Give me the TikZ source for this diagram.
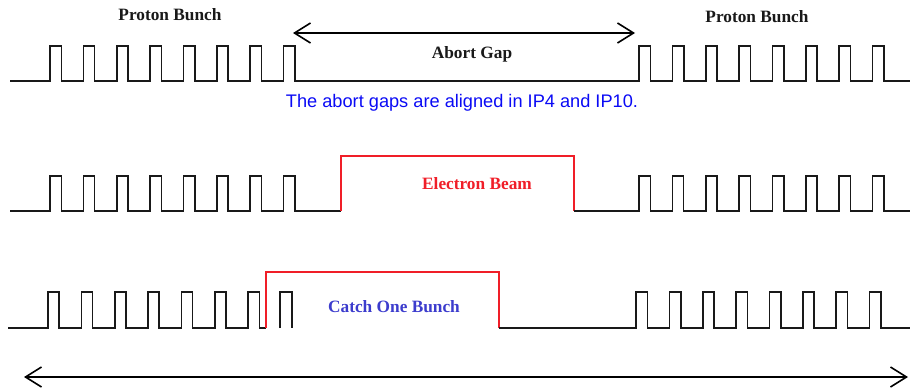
\documentclass[tikz,border=0pt]{standalone}
\usepackage{fontspec}
\setmainfont{Liberation Serif}
\newfontfamily\arialf{Liberation Sans}
\usetikzlibrary{arrows.meta}
\definecolor{beamred}{RGB}{240,30,40}
\definecolor{catchblue}{RGB}{60,60,205}
\definecolor{noteblue}{RGB}{10,10,245}
\tikzset{
  wave/.style={line width=1.6pt, black!90, line join=miter},
  redwave/.style={line width=1.6pt, beamred, line join=miter},
  dimarrow/.style={line width=1.6pt, {Straight Barb[length=16pt,width=20pt,line width=1.6pt]}-{Straight Barb[length=16pt,width=20pt,line width=1.6pt]}},
  lbl/.style={font=\fontsize{17.3}{20}\selectfont\bfseries, text=black!90, inner sep=0pt},
  note/.style={font=\arialf\fontsize{18.2}{21}\selectfont, text=noteblue, inner sep=0pt},
}
\begin{document}
\begin{tikzpicture}[x=1pt,y=-1pt]
\useasboundingbox (0,0) rectangle (911,389);
% Row 1
\draw[wave] (10,81) foreach \i in {0,...,7} { -- ({50+33.35*\i},81) -- ++(0,-35) -- ++(11.3,0) -- ++(0,35) }
  foreach \i in {0,...,7} { -- ({639+33.35*\i},81) -- ++(0,-35) -- ++(11.5,0) -- ++(0,35) } -- (910,81);
% Row 2
\draw[wave] (10,211) foreach \i in {0,...,7} { -- ({50+33.35*\i},211) -- ++(0,-35) -- ++(11.3,0) -- ++(0,35) } -- (341,211);
\draw[redwave] (341,211) -- (341,156) -- (574,156) -- (574,211);
\draw[wave] (574,211) foreach \i in {0,...,7} { -- ({639+33.35*\i},211) -- ++(0,-35) -- ++(11.3,0) -- ++(0,35) } -- (910,211);
% Row 3
\draw[wave] (8,328) foreach \i in {0,...,6} { -- ({48+33.35*\i},328) -- ++(0,-36) -- ++(11.2,0) -- ++(0,36) } -- (266,328);
\draw[redwave] (266,328) -- (266,272) -- (499,272) -- (499,328);
\draw[wave] (280,328) -- (280,292) -- (292,292) -- (292,328);
\draw[wave] (499,328) foreach \i in {0,...,7} { -- ({636+33.35*\i},328) -- ++(0,-36) -- ++(11.5,0) -- ++(0,36) } -- (910,328);
% arrows
\coordinate (gapL) at (293,33);
\coordinate (gapR) at (635,33);
\coordinate (allL) at (24,377);
\coordinate (allR) at (908,377);
\draw[dimarrow] (gapL) -- (gapR);
\draw[dimarrow] (allL) -- (allR);
% labels
\node[lbl] (pb1) at (170,15) {Proton Bunch};
\node[lbl] (pb2) at (757,17) {Proton Bunch};
\node[lbl] (gap) at (472,54) {Abort Gap};
\node[note] (nt) at (462,103) {The abort gaps are aligned in IP4 and IP10.};
\node[lbl, text=beamred] (eb) at (477,184) {Electron Beam};
\node[lbl, text=catchblue] (cb) at (394,307) {Catch One Bunch};
\end{tikzpicture}
\end{document}
